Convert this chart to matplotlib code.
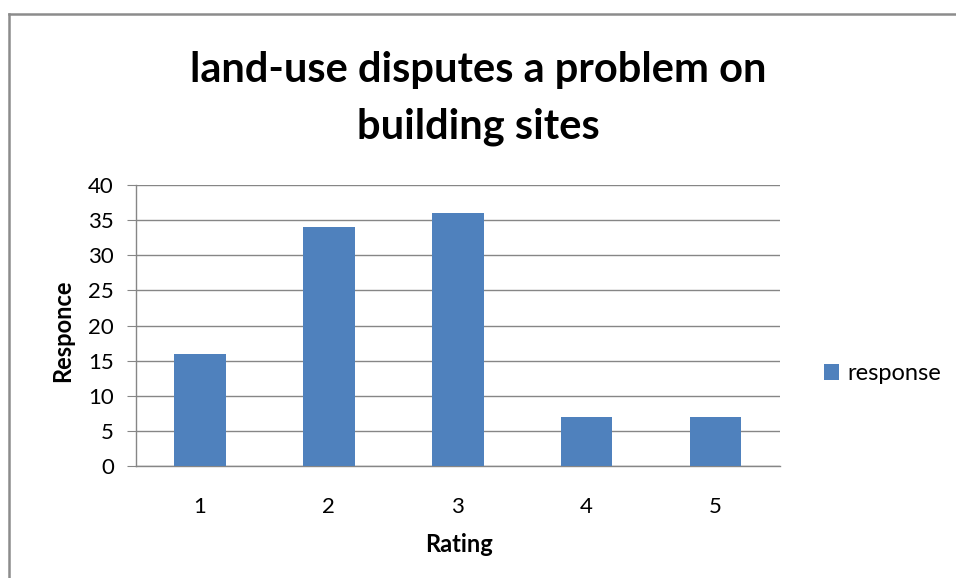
import matplotlib
matplotlib.use("Agg")
import matplotlib.pyplot as plt
from matplotlib.lines import Line2D
from matplotlib.patches import Patch

categories = ["1", "2", "3", "4", "5"]
values = [16, 34, 36, 7, 7]
series_name = "response"
title_lines = ["land-use disputes a problem on", "building sites"]
xlabel = "Rating"
ylabel = "Responce"
yticks = [0, 5, 10, 15, 20, 25, 30, 35, 40]

plt.rcParams['font.family'] = ['Lato', 'DejaVu Sans']

W, H = 956, 578
fig = plt.figure(figsize=(W / 100, H / 100), dpi=100)
fig.patch.set_facecolor("white")

left, right, top, bottom = 135.5, 780, 185, 466
ax = fig.add_axes([left / W, 1 - bottom / H, (right - left) / W, (bottom - top) / H])

x = list(range(1, len(categories) + 1))
ax.bar(x, values, width=0.4, color="#4F81BD", zorder=3, label=series_name)

ax.set_xlim(0.5, len(categories) + 0.5)
ax.set_ylim(0, 40)
ax.set_yticks(yticks)
ax.set_xticks(x)
ax.set_xticklabels(categories)
ax.yaxis.grid(True, color="#868686", linewidth=1.0, zorder=0)
ax.set_axisbelow(True)
for s in ["top", "right"]:
    ax.spines[s].set_visible(False)
for s in ["left", "bottom"]:
    ax.spines[s].set_color("#868686")
    ax.spines[s].set_linewidth(1.0)
ax.tick_params(axis="y", length=6.5, color="#868686", labelsize=16, pad=9)
ax.tick_params(axis="x", length=0, labelsize=16, pad=22)

# axis titles
fig.text(459 / W, 1 - 552 / H, xlabel, ha="center", va="baseline",
         fontsize=17, fontweight="bold")
fig.text(63 / W, 1 - 331 / H, ylabel, ha="center", va="center", rotation=90,
         fontsize=17, fontweight="bold")

# chart title
fig.text(0.5, 1 - 82 / H, title_lines[0], ha="center", va="baseline",
         fontsize=30, fontweight="bold")
fig.text(0.5, 1 - 138 / H, title_lines[1], ha="center", va="baseline",
         fontsize=30, fontweight="bold")

handles = [Patch(facecolor="#4F81BD", edgecolor="none")]
fig.legend(handles, [series_name], loc="center left",
           bbox_to_anchor=(807 / W, 1 - 374 / H), frameon=False,
           fontsize=17, handlelength=0.65, handleheight=0.65, handletextpad=0.35,
           borderpad=0.2)

# outer chart border (top and left visible)
fig.add_artist(Line2D([9 / W, 1], [1 - 13.5 / H, 1 - 13.5 / H], color="#8c8c8c", linewidth=1.8))
fig.add_artist(Line2D([9 / W, 9 / W], [0, 1 - 13.5 / H], color="#8c8c8c", linewidth=1.8))

fig.savefig("out.png", dpi=100, facecolor="white")
